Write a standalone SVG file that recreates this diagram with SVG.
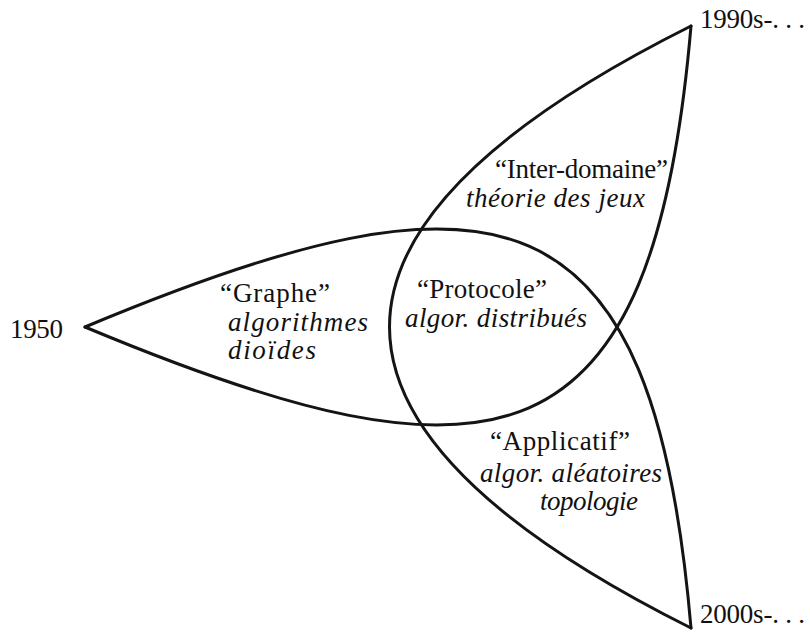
<svg xmlns="http://www.w3.org/2000/svg" width="810" height="635" viewBox="0 0 810 635">
<style>
.c{fill:none;stroke:#141414;stroke-width:3;stroke-linecap:round;stroke-linejoin:round}
</style>
<rect width="810" height="635" fill="#fff"/>
<g id="curves">
<path class="c" d="M691,26 C289,227 289,427 691,628"/>
<path class="c" d="M85,327 C499,154 653,184 691,628"/>
<path class="c" d="M85,327 C499,500 653,470 691,26"/>
</g>
<g id="dates">
<text font-family="Liberation Serif" font-size="27" fill="#111" x="10" y="338" textLength="53">1950</text>
<text font-family="Liberation Serif" font-size="27" fill="#111" x="700" y="28" textLength="105">1990s-. . .</text>
<text font-family="Liberation Serif" font-size="27" fill="#111" x="700" y="623" textLength="105">2000s-. . .</text>
</g>
<g id="graphe">
<text font-family="Liberation Serif" font-size="27" fill="#111" x="220" y="302" textLength="110">“Graphe”</text>
<text font-family="Liberation Serif" font-size="27" font-style="italic" fill="#111" x="228" y="331" textLength="140">algorithmes</text>
<text font-family="Liberation Serif" font-size="27" font-style="italic" fill="#111" x="228" y="359" textLength="88">dioïdes</text>
</g>
<g id="inter-domaine">
<text font-family="Liberation Serif" font-size="27" fill="#111" x="495" y="178" textLength="173">“Inter-domaine”</text>
<text font-family="Liberation Serif" font-size="27" font-style="italic" fill="#111" x="466" y="207" textLength="179">théorie des jeux</text>
</g>
<g id="protocole">
<text font-family="Liberation Serif" font-size="27" fill="#111" x="417" y="298" textLength="130">“Protocole”</text>
<text font-family="Liberation Serif" font-size="27" font-style="italic" fill="#111" x="405" y="327" textLength="182">algor. distribués</text>
</g>
<g id="applicatif">
<text font-family="Liberation Serif" font-size="27" fill="#111" x="490" y="450" textLength="140">“Applicatif”</text>
<text font-family="Liberation Serif" font-size="27" font-style="italic" fill="#111" x="480" y="482" textLength="182">algor. aléatoires</text>
<text font-family="Liberation Serif" font-size="27" font-style="italic" fill="#111" x="540" y="510" textLength="98">topologie</text>
</g>
</svg>
